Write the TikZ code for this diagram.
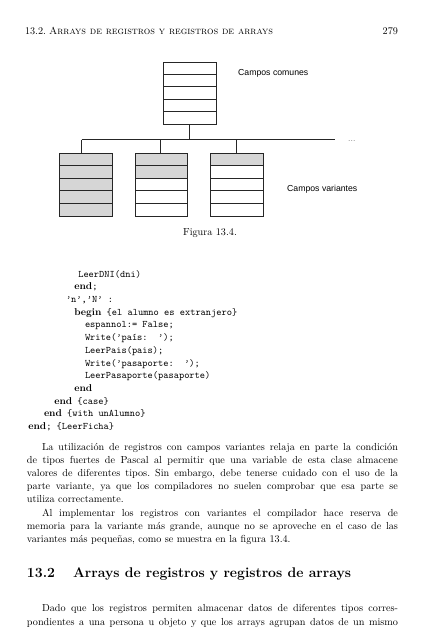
\documentclass[tikz,border=0pt]{standalone}
\usepackage{fontspec}
\newfontfamily\figsans{Liberation Sans}
\newcommand\recordbox[6]{%
  \foreach \i in {0,...,4}{%
    \pgfmathsetmacro\yy{#3+\i*#5}%
    \ifnum\i<#6\relax
      \path[grayc] (#2,\yy) rectangle ++(#4,#5);
    \else
      \path[whitec] (#2,\yy) rectangle ++(#4,#5);
    \fi
  }%
  \pgfmathsetmacro\hh{5*#5}%
  \node[recframe, minimum width=#4pt, minimum height=\hh pt, anchor=north west] (#1) at (#2,#3) {};
}
\newcommand\kw[1]{{\rmfamily\bfseries #1}}
\begin{document}
\begin{tikzpicture}[x=1pt,y=-1pt,
  txt/.style={anchor=base west, inner sep=0pt, outer sep=0pt},
  body/.style={txt, font=\fontsize{10.2}{12.5}\selectfont},
  code/.style={txt, font=\ttfamily\fontsize{9.95}{12}\selectfont},
  cell/.style={draw=black!85, line width=0.8pt},
  grayc/.style={cell, fill=black!16},
  whitec/.style={cell, fill=white},
  recframe/.style={draw=black!85, line width=0.8pt, inner sep=0pt, outer sep=0pt},
  wire/.style={draw=black!85, line width=0.8pt},
  lbl/.style={anchor=base west, inner sep=0pt, font=\figsans\fontsize{8.7}{10}\selectfont}]
\useasboundingbox (0,0) rectangle (428,640);
\fill[white] (0,0) rectangle (428,640);

% running head
\node[body] (hnum) at (25,34) {13.2.};
\node[body] (htitle) at (49,34) {\textsc{Arrays de registros y registros de arrays}};
\node[body, anchor=base east] (hpage) at (398,34) {279};

% figure
\recordbox{top}{163}{62}{53}{12.4}{0}
\recordbox{va}{59.3}{153}{53}{12.6}{5}
\recordbox{vb}{135}{153}{52.7}{12.6}{2}
\recordbox{vc}{210.7}{153}{52.6}{12.6}{1}

\coordinate (busL) at (81.7,139.5);
\coordinate (busR) at (335,139.5);
\coordinate (jb) at (160,139.5);
\coordinate (jc) at (236.7,139.5);
\draw[wire] (top.south) -- (top.south |- busL);
\draw[wire] (busL) -- (busR);
\draw[wire] (busL) -- (busL |- va.north);
\draw[wire] (jb) -- (jb |- vb.north);
\draw[wire] (jc) -- (jc |- vc.north);
\node[lbl, text=black!45] (dots) at (348,141) {...};
\node[lbl] (cc) at (238,75) {Campos comunes};
\node[lbl] (cv) at (287,191) {Campos variantes};
\node[body, anchor=base] (cap) at (210,235) {Figura 13.4.};

% code
\node[code] (c1) at (78.3,277) {LeerDNI(dni)};
\node[code] (c2) at (74.3,289.7) {\kw{end};};
\node[code] (c3) at (66,302.4) {’n’,’N’ :};
\node[code] (c4) at (74.3,315.2) {\kw{begin} \{el alumno es extranjero\}};
\node[code] (c5) at (85,327.9) {espannol:= False;};
\node[code] (c6) at (85,340.6) {Write(’país:~~’);};
\node[code] (c7) at (85,353.3) {LeerPais(pais);};
\node[code] (c8) at (85,366) {Write(’pasaporte:~~’);};
\node[code] (c9) at (85,378.8) {LeerPasaporte(pasaporte)};
\node[code] (c10) at (74.3,391.5) {\kw{end}};
\node[code] (c11) at (54.3,404.2) {\kw{end} \{case\}};
\node[code] (c12) at (44,416.9) {\kw{end} \{with unAlumno\}};
\node[code] (c13) at (28.3,429.6) {\kw{end}; \{LeerFicha\}};

% paragraph 1
\node[body] (p1a) at (42,450) {\makebox[356pt][s]{La utilización de registros con campos variantes relaja en parte la condición}};
\node[body] (p1b) at (27,463) {\makebox[371pt][s]{de tipos fuertes de Pascal al permitir que una variable de esta clase almacene}};
\node[body] (p1c) at (27,476) {\makebox[371pt][s]{valores de diferentes tipos.\ Sin embargo, debe tenerse cuidado con el uso de la}};
\node[body] (p1d) at (27,489) {\makebox[371pt][s]{parte variante, ya que los compiladores no suelen comprobar que esa parte se}};
\node[body] (p1e) at (27,502) {utiliza correctamente.};

% paragraph 2
\node[body] (p2a) at (42,516) {\makebox[356pt][s]{Al implementar los registros con variantes el compilador hace reserva de}};
\node[body] (p2b) at (27,529) {\makebox[371pt][s]{memoria para la variante más grande, aunque no se aproveche en el caso de las}};
\node[body] (p2c) at (27,542) {variantes más pequeñas, como se muestra en la figura 13.4.};

% section heading
\node[txt, font=\fontsize{14}{17}\selectfont\bfseries] (snum) at (27,577) {13.2};
\node[txt, font=\fontsize{14}{17}\selectfont\bfseries] (stitle) at (73,577) {Arrays de registros y registros de arrays};

% paragraph 3
\node[body] (p3a) at (42,611) {\makebox[356pt][s]{Dado que los registros permiten almacenar datos de diferentes tipos corres-}};
\node[body] (p3b) at (27,625) {\makebox[371pt][s]{pondientes a una persona u objeto y que los arrays agrupan datos de un mismo}};
\end{tikzpicture}
\end{document}
